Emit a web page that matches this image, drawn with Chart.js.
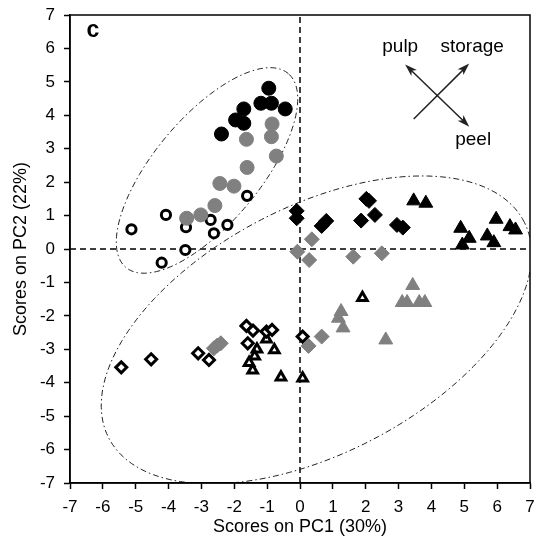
<!DOCTYPE html>
<html>
<head>
<meta charset="utf-8">
<script src="https://cdn.jsdelivr.net/npm/chart.js@4/dist/chart.umd.min.js"></script>
<style>
  html, body { margin: 0; padding: 0; background: #fff; }
  #wrap { width: 539px; height: 539px; }
</style>
</head>
<body>
<div id="wrap"><canvas id="chart" width="539" height="539"></canvas></div>
<script>
// scores (PC1, PC2)
const blackCircleX = [-0.95, -1.19, -0.87, -0.45, -1.71, -1.96, -1.71, -2.39];
const blackCircleY = [4.81, 4.36, 4.36, 4.19, 4.19, 3.86, 3.76, 3.44];

const grayCircleX = [-0.85, -0.87, -1.63, -0.72, -1.61, -2.44, -2.01, -2.59, -3.02, -3.45];
const grayCircleY = [3.74, 3.36, 3.28, 2.78, 2.44, 1.96, 1.88, 1.30, 1.02, 0.92];

const openCircleX = [-1.61, -4.08, -5.13, -3.47, -2.72, -2.21, -2.62, -3.49, -4.21];
const openCircleY = [1.59, 1.02, 0.59, 0.65, 0.87, 0.72, 0.47, -0.03, -0.41];

const blackDiamondX = [-0.10, -0.10, 0.66, 0.80, 2.02, 2.10, 2.28, 1.86, 2.95, 3.13];
const blackDiamondY = [1.14, 0.92, 0.69, 0.84, 1.50, 1.44, 1.02, 0.85, 0.72, 0.64];

const grayDiamondX = [0.36, -0.08, 0.28, 1.62, 2.49, -2.41, -2.52, -2.62, 0.26, 0.66];
const grayDiamondY = [0.29, -0.08, -0.33, -0.23, -0.13, -2.82, -2.89, -2.97, -2.90, -2.62];

const openDiamondX = [-5.44, -4.53, -3.10, -2.77, -1.63, -1.43, -1.59, -1.02, -0.85, 0.08];
const openDiamondY = [-3.54, -3.30, -3.12, -3.32, -2.30, -2.44, -2.82, -2.47, -2.42, -2.62];

const blackTriangleX = [3.46, 3.83, 4.89, 5.15, 4.94, 5.97, 5.70, 5.90, 6.39, 6.56];
const blackTriangleY = [1.44, 1.37, 0.62, 0.32, 0.12, 0.89, 0.39, 0.19, 0.67, 0.57];

const grayTriangleX = [3.43, 3.11, 3.26, 3.63, 3.80, 1.25, 1.17, 1.31, 2.61];
const grayTriangleY = [-1.09, -1.60, -1.60, -1.60, -1.60, -1.87, -2.07, -2.36, -2.72];

const openTriangleX = [1.90, -1.31, -1.38, -1.02, -0.78, -1.55, -1.44, -0.58, 0.08];
const openTriangleY = [-1.46, -3.00, -3.21, -2.70, -3.02, -3.40, -3.63, -3.84, -3.87];

const axisTicks = [-7, -6, -5, -4, -3, -2, -1, 0, 1, 2, 3, 4, 5, 6, 7];

const GRAY = '#808080';
const FONT = "'Liberation Sans', Arial, sans-serif";

// confidence ellipses in data units (centre, semi axes, tilt in degrees)
const ellipses = [
    {cx: -2.83, cy: 2.35, a: 3.81, b: 1.60, angle: 49.4},
    {cx: 0.50, cy: -2.42, a: 7.10, b: 3.70, angle: 26.9}
];

function pts(xs, ys) {
    return xs.map((x, i) => ({x: x, y: ys[i]}));
}

function series(xs, ys, style, fill, radius, border) {
    return {
        data: pts(xs, ys),
        pointStyle: style,
        pointRadius: radius,
        pointHoverRadius: radius,
        backgroundColor: fill,
        borderColor: fill === '#fff' ? '#000' : fill,
        pointBorderWidth: border,
        borderWidth: border
    };
}

const datasets = [
    series(grayCircleX, grayCircleY, 'circle', GRAY, 7, 1),
    series(blackCircleX, blackCircleY, 'circle', '#000', 7, 1),
    series(openCircleX, openCircleY, 'circle', '#fff', 4.6, 3),
    series(grayDiamondX, grayDiamondY, 'rectRot', GRAY, 7.5, 1),
    series(blackDiamondX, blackDiamondY, 'rectRot', '#000', 7.5, 1),
    series(openDiamondX, openDiamondY, 'rectRot', '#fff', 5.5, 3),
    series(grayTriangleX, grayTriangleY, 'triangle', GRAY, 8, 1),
    series(blackTriangleX, blackTriangleY, 'triangle', '#000', 8, 1),
    series(openTriangleX, openTriangleY, 'triangle', '#fff', 5.5, 3)
];

function dataLine(chart, x1, y1, x2, y2) {
    const {x: sx, y: sy} = chart.scales;
    const ctx = chart.ctx;
    ctx.beginPath();
    ctx.moveTo(sx.getPixelForValue(x1), sy.getPixelForValue(y1));
    ctx.lineTo(sx.getPixelForValue(x2), sy.getPixelForValue(y2));
    ctx.stroke();
}

// filled head with its tip at (x2, y2), pointing away from (x1, y1)
function arrowHead(chart, x1, y1, x2, y2) {
    const {x: sx, y: sy} = chart.scales;
    const ctx = chart.ctx;
    const px = sx.getPixelForValue(x2), py = sy.getPixelForValue(y2);
    const ang = Math.atan2(py - sy.getPixelForValue(y1), px - sx.getPixelForValue(x1));
    const len = 13, half = 0.32;
    ctx.beginPath();
    ctx.moveTo(px, py);
    ctx.lineTo(px - len * Math.cos(ang - half), py - len * Math.sin(ang - half));
    ctx.lineTo(px - len * 0.7 * Math.cos(ang), py - len * 0.7 * Math.sin(ang));
    ctx.lineTo(px - len * Math.cos(ang + half), py - len * Math.sin(ang + half));
    ctx.closePath();
    ctx.fill();
}

const decorPlugin = {
    id: 'decor',
    beforeDatasetsDraw(chart) {
        const {ctx, chartArea: area} = chart;
        const {x: sx, y: sy} = chart.scales;
        ctx.save();
        ctx.beginPath();
        ctx.rect(area.left, area.top, area.right - area.left, area.bottom - area.top);
        ctx.clip();

        // zero lines
        ctx.strokeStyle = '#000';
        ctx.lineWidth = 1.5;
        ctx.setLineDash([6, 4]);
        dataLine(chart, 0, -7, 0, 7);
        dataLine(chart, -7, 0, 7, 0);

        // dash-dot ellipses
        ctx.strokeStyle = '#222';
        ctx.lineWidth = 1;
        ctx.setLineDash([6, 3, 1.5, 3]);
        ellipses.forEach(e => {
            const rad = e.angle * Math.PI / 180;
            ctx.beginPath();
            for (let i = 0; i <= 180; i++) {
                const t = i / 180 * 2 * Math.PI;
                const dx = e.a * Math.cos(t) * Math.cos(rad) - e.b * Math.sin(t) * Math.sin(rad);
                const dy = e.a * Math.cos(t) * Math.sin(rad) + e.b * Math.sin(t) * Math.cos(rad);
                const px = sx.getPixelForValue(e.cx + dx);
                const py = sy.getPixelForValue(e.cy + dy);
                if (i === 0) ctx.moveTo(px, py); else ctx.lineTo(px, py);
            }
            ctx.stroke();
        });
        ctx.restore();
    },
    afterDraw(chart) {
        const {ctx, chartArea: area} = chart;
        const {x: sx, y: sy} = chart.scales;
        ctx.save();
        // frame round the plot
        ctx.strokeStyle = '#000';
        ctx.lineWidth = 1.5;
        ctx.strokeRect(area.left, area.top, area.right - area.left, area.bottom - area.top);

        // panel letter
        ctx.fillStyle = '#000';
        ctx.font = 'bold 23px ' + FONT;
        ctx.textAlign = 'center';
        ctx.textBaseline = 'alphabetic';
        ctx.fillText('c', sx.getPixelForValue(-6.30), sy.getPixelForValue(6.34));

        // loading arrows
        ctx.strokeStyle = '#222';
        ctx.fillStyle = '#222';
        ctx.lineWidth = 1.5;
        dataLine(chart, 3.46, 3.89, 5.08, 5.47);
        arrowHead(chart, 3.46, 3.89, 5.15, 5.55);
        dataLine(chart, 3.27, 5.45, 5.08, 3.73);
        arrowHead(chart, 4.2, 4.6, 3.20, 5.52);
        arrowHead(chart, 4.2, 4.6, 5.15, 3.66);

        ctx.fillStyle = '#000';
        ctx.font = '19px ' + FONT;
        ctx.fillText('pulp', sx.getPixelForValue(3.05), sy.getPixelForValue(5.88));
        ctx.fillText('storage', sx.getPixelForValue(5.24), sy.getPixelForValue(5.88));
        ctx.fillText('peel', sx.getPixelForValue(5.27), sy.getPixelForValue(3.11));
        ctx.restore();
    }
};

const tickFont = {family: FONT, size: 17};
const titleFont = {family: FONT, size: 18};

new Chart(document.getElementById('chart'), {
    type: 'scatter',
    data: {datasets: datasets},
    options: {
        responsive: false,
        animation: false,
        events: [],
        layout: {padding: {top: 15, right: 6, left: 0, bottom: 0}},
        plugins: {legend: {display: false}, tooltip: {enabled: false}},
        scales: {
            x: {
                type: 'linear',
                min: -7,
                max: 7,
                afterBuildTicks: s => { s.ticks = axisTicks.map(v => ({value: v})); },
                afterFit: s => { s.height = 56; s.paddingLeft = 0; s.paddingRight = 0; },
                ticks: {font: tickFont, color: '#000', autoSkip: false, maxRotation: 0, padding: 8},
                grid: {drawOnChartArea: false, drawTicks: true, tickLength: 6, tickColor: '#000', tickWidth: 1.5},
                border: {display: true, color: '#000', width: 1.5},
                title: {display: true, text: 'Scores on PC1 (30%)', font: titleFont, color: '#000', padding: {top: 0, bottom: 1}}
            },
            y: {
                type: 'linear',
                min: -7,
                max: 7,
                afterBuildTicks: s => { s.ticks = axisTicks.map(v => ({value: v})); },
                afterFit: s => { s.width = 70; s.paddingTop = 0; s.paddingBottom = 0; },
                ticks: {font: tickFont, color: '#000', autoSkip: false, padding: 9},
                grid: {drawOnChartArea: false, drawTicks: true, tickLength: 6, tickColor: '#000', tickWidth: 1.5},
                border: {display: true, color: '#000', width: 1.5},
                title: {display: true, text: 'Scores on PC2 (22%)', font: titleFont, color: '#000', padding: {top: 10, bottom: 0}}
            }
        }
    },
    plugins: [decorPlugin]
});
</script>
</body>
</html>
